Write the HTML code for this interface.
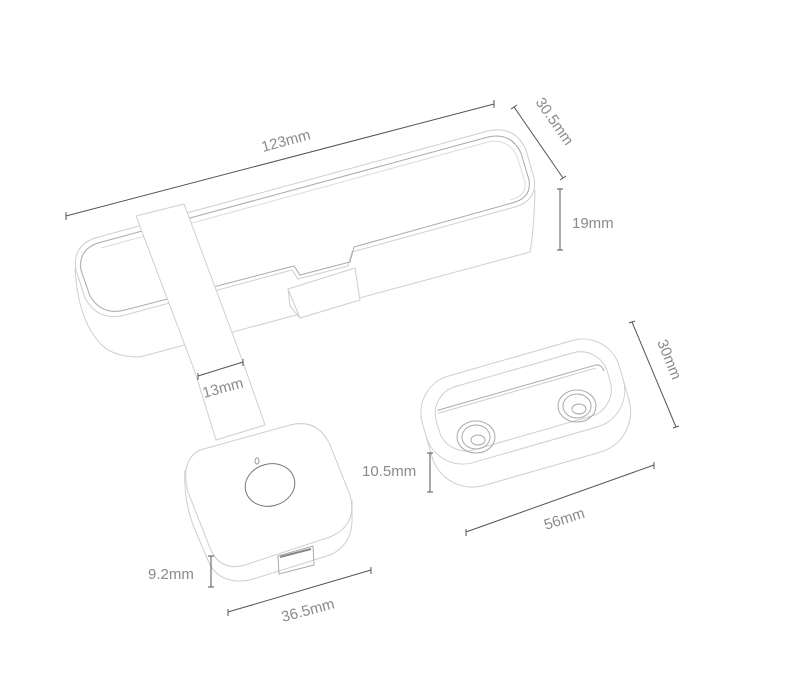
<!DOCTYPE html>
<html><head><meta charset="utf-8"><style>
html,body{margin:0;padding:0;background:#fff;}
svg{display:block;}
text{font-family:"Liberation Sans",sans-serif;font-size:15px;fill:#8a8a8a;}
</style></head><body>
<svg width="800" height="700" viewBox="0 0 800 700" xmlns="http://www.w3.org/2000/svg">
<g fill="none" stroke="#cfcfcf" stroke-width="1">
  <!-- case body sides -->
  <path d="M75,268 Q78,320 100,343 Q112,357 140,357 L530,252 Q534,230 535,190"/>
  <!-- case top face outer -->
  <path d="M95,238 L488,131 Q515,125 526,150 L534,178 Q538,200 515,207 L352,252 L348,266 L298,279 L292,270 L125,315 Q98,322 85,298 L76,270 Q72,246 95,238 Z" fill="#fff"/>
  <path d="M98,243 L488,137 Q511,132 521,153 L529,180 Q532,198 512,203 L354,247 L350,262 L300,275 L294,266 L125,310 Q102,316 90,296 L81,270 Q78,250 98,243 Z" stroke="#a9a9a9"/>
  <path d="M101,248 L488,142 Q508,138 517,156 L525,182 Q527,196 510,200" stroke="#dcdcdc"/>
  <!-- usb block -->
  <path d="M288,289 L355,268 L360,300 L300,318 L288,289 Z M288,289 L290,306 L300,318" fill="#fff"/>
  <!-- strap -->
  <path d="M136,216 L184,204 L243,362 L265,425 L216,440 L195,372 Z" fill="#fff"/>
</g>
<!-- button device -->
<g fill="none" stroke="#cfcfcf" stroke-width="1">
  <path d="M185,470 Q183,500 195,530 L210,565 Q222,585 250,580 L330,555 Q352,545 352,520 L352,500"/>
  <path d="M200,450 L290,425 Q318,418 330,445 L350,495 Q358,525 330,537 L245,565 Q220,572 210,548 L188,492 Q180,460 200,450 Z" fill="#fff"/>
  <ellipse cx="270" cy="485" rx="25" ry="21" stroke="#777" transform="rotate(-15 270 485)"/>
  <ellipse cx="257" cy="461" rx="2" ry="3" stroke="#999"/>
  <path d="M278,556 L313,546 L314,565 L279,574 Z" stroke="#aaa"/>
  <path d="M280,557 L311,549" stroke="#888" stroke-width="2"/>
</g>
<!-- holder -->
<g fill="none" stroke="#cfcfcf" stroke-width="1">
  <g transform="translate(527,418) rotate(-16)">
    <rect x="-102" y="-52" width="205" height="105" rx="42"/>
    <rect x="-102" y="-62" width="205" height="90" rx="38" fill="#fff"/>
    <rect x="-88" y="-50" width="178" height="66" rx="28"/>
    <path d="M-84,-32 L80,-32 Q86,-32 87,-24" stroke="#aaa"/>
    <path d="M-84,-29 L80,-29" stroke="#ccc"/>
  </g>
  <g stroke="#aaa">
    <ellipse cx="476" cy="437" rx="19" ry="16"/>
    <ellipse cx="476" cy="437" rx="14" ry="12"/>
    <ellipse cx="478" cy="440" rx="7" ry="5"/>
    <ellipse cx="577" cy="406" rx="19" ry="16"/>
    <ellipse cx="577" cy="406" rx="14" ry="12"/>
    <ellipse cx="579" cy="409" rx="7" ry="5"/>
  </g>
</g>
<!-- dimension lines -->
<g stroke="#555" stroke-width="1" fill="none">
  <path d="M66,216 L494,104 M66,212 L66,220 M494,100 L494,108"/>
  <path d="M514,107 L563,178 M511,109 L517,105 M560,180 L566,176"/>
  <path d="M560,189 L560,250 M557,189 L563,189 M557,250 L563,250"/>
  <path d="M198,376 L243,362 M198,373 L198,380 M243,359 L243,366"/>
  <path d="M632,322 L676,427 M629,323 L635,321 M673,428 L679,426"/>
  <path d="M430,453 L430,492 M427,453 L433,453 M427,492 L433,492"/>
  <path d="M466,532 L654,465 M466,529 L466,536 M654,462 L654,469"/>
  <path d="M211,556 L211,587 M208,556 L214,556 M208,587 L214,587"/>
  <path d="M228,612 L371,570 M228,609 L228,616 M371,567 L371,574"/>
</g>
<text transform="translate(263,152) rotate(-15)">123mm</text>
<text transform="translate(535,102) rotate(55)">30.5mm</text>
<text x="572" y="228">19mm</text>
<text transform="translate(204,398) rotate(-15)">13mm</text>
<text transform="translate(657,342) rotate(68)">30mm</text>
<text x="362" y="476">10.5mm</text>
<text transform="translate(546,530) rotate(-18)">56mm</text>
<text x="148" y="579">9.2mm</text>
<text transform="translate(283,622) rotate(-15)">36.5mm</text>
</svg>
</body></html>
